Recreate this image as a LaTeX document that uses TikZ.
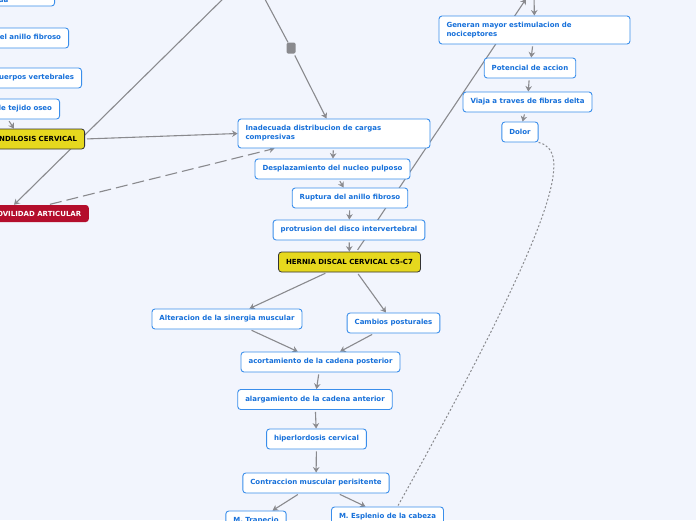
\documentclass[tikz,border=0pt]{standalone}
\usepackage{fontspec}
\setmainfont{DejaVu Sans}
\usetikzlibrary{arrows.meta}
\definecolor{mapbg}{RGB}{242,245,253}
\definecolor{idealine}{RGB}{58,142,235}
\definecolor{ideatext}{RGB}{22,112,218}
\definecolor{linkgray}{RGB}{138,138,142}
\definecolor{mainyellow}{RGB}{230,216,30}
\definecolor{mainred}{RGB}{180,14,44}
\pgfdeclarelayer{bg}
\pgfdeclarelayer{lines}
\pgfsetlayers{bg,lines,main}
\begin{document}
\begin{tikzpicture}[x=1pt,y=-1pt,
  every node/.style={font=\fontsize{7}{9}\selectfont\bfseries},
  idea/.style={draw=idealine,fill=white,text=ideatext,rounded corners=3pt,line width=0.9pt,minimum height=20pt,inner xsep=7.5pt,inner ysep=2pt},
  mainidea/.style={draw=black!80,fill=mainyellow,text=black,rounded corners=3pt,line width=0.8pt,minimum height=20pt,inner xsep=7.5pt},
  alertidea/.style={fill=mainred,text=white,rounded corners=3pt,minimum height=17pt,inner xsep=7.5pt},
  knot/.style={fill=linkgray,rounded corners=1.5pt,minimum width=9pt,minimum height=11pt,inner sep=0pt},
  line/.style={draw=linkgray,line width=1.1pt},
  link/.style={line,-{Stealth[length=5.5pt,width=6.5pt]},shorten <=2pt}]
\useasboundingbox (0,0) rectangle (696,520);
\clip (0,0) rectangle (696,520);
\begin{pgfonlayer}{bg}
\fill[mapbg] (0,0) rectangle (696,520);
\end{pgfonlayer}
\node[idea,anchor=east,text width=139pt,align=left] (agua) at (55,-4) {Deshidratacion del nucleo\\pulposo, perdida de agua};
\node[idea,anchor=east] (anillo) at (69,38) {Degeneracion del anillo fibroso};
\node[idea,anchor=east] (cuerpos) at (82,78) {Aproximacion de cuerpos vertebrales};
\node[idea,anchor=east] (tejido) at (60,109) {Formacion de tejido oseo};
\node[mainidea,anchor=east] (espon) at (85,139) {ESPONDILOSIS CERVICAL};
\node[alertidea,anchor=east] (hipo) at (89,213.5) {HIPOMOVILIDAD ARTICULAR};
\node[knot] (knot) at (291,48) {};
\node[idea,text width=177pt,align=left,minimum height=29pt] (inad) at (334,133.5) {Inadecuada distribucion de cargas\\compresivas};
\node[idea] (despl) at (332.5,169) {Desplazamiento del nucleo pulposo};
\node[idea] (ruptura) at (350,198) {Ruptura del anillo fibroso};
\node[idea] (protru) at (349,230) {protrusion del disco intervertebral};
\node[mainidea] (hernia) at (349.5,262) {HERNIA DISCAL CERVICAL C5-C7};
\node[idea,text width=176pt,align=left,minimum height=28pt] (generan) at (534.5,30) {Generan mayor estimulacion de\\nociceptores};
\node[idea] (potencial) at (530,68) {Potencial de accion};
\node[idea] (viaja) at (527.5,102) {Viaja a traves de fibras delta};
\node[idea] (dolor) at (520,132) {Dolor};
\node[idea] (alter) at (227,319) {Alteracion de la sinergia muscular};
\node[idea] (cambios) at (393.5,323) {Cambios posturales};
\node[idea] (acort) at (320.5,362) {acortamiento de la cadena posterior};
\node[idea] (alarg) at (315,399.5) {alargamiento de la cadena anterior};
\node[idea] (hiper) at (316.5,439) {hiperlordosis cervical};
\node[idea] (contr) at (316,483) {Contraccion muscular perisitente};
\node[idea] (trapecio) at (256,521) {M. Trapecio};
\node[idea] (esplenio) at (387.5,517) {M. Esplenio de la cabeza};
\coordinate (fromtop1) at (232,-10);
\coordinate (fromtop2) at (259,-12);
\coordinate (fromtop3) at (534,-10);
\coordinate (totop) at (526,-1);
\begin{pgfonlayer}{lines}
\draw[link] (fromtop1) -- ([xshift=-75pt]hipo.north east);
\draw[line] (fromtop2) -- (knot);
\draw[link] (knot) -- (inad);
\draw[link] (espon.east) -- (inad.west);
\draw[link,dash pattern=on 12pt off 5pt] ([xshift=-41pt]hipo.north east) -- ([xshift=37pt]inad.south west);
\draw[link] ([xshift=-52pt]tejido.south east) -- ([xshift=-71pt]espon.north east);
\foreach \a/\b in {inad/despl,despl/ruptura,ruptura/protru,protru/hernia,hernia/alter,hernia/cambios,alter/acort,cambios/acort,acort/alarg,alarg/hiper,hiper/contr,contr/trapecio,contr/esplenio,generan/potencial,potencial/viaja,viaja/dolor}
  \draw[link] (\a) -- (\b);
\draw[link] (hernia) -- (totop);
\draw[link] (fromtop3) -- (generan);
\draw[line,line width=1pt,dash pattern=on 2pt off 2pt] (dolor.south east) .. controls (570,150) and (566,205) .. ([xshift=10pt]esplenio.north);
\end{pgfonlayer}
\end{tikzpicture}
\end{document}
